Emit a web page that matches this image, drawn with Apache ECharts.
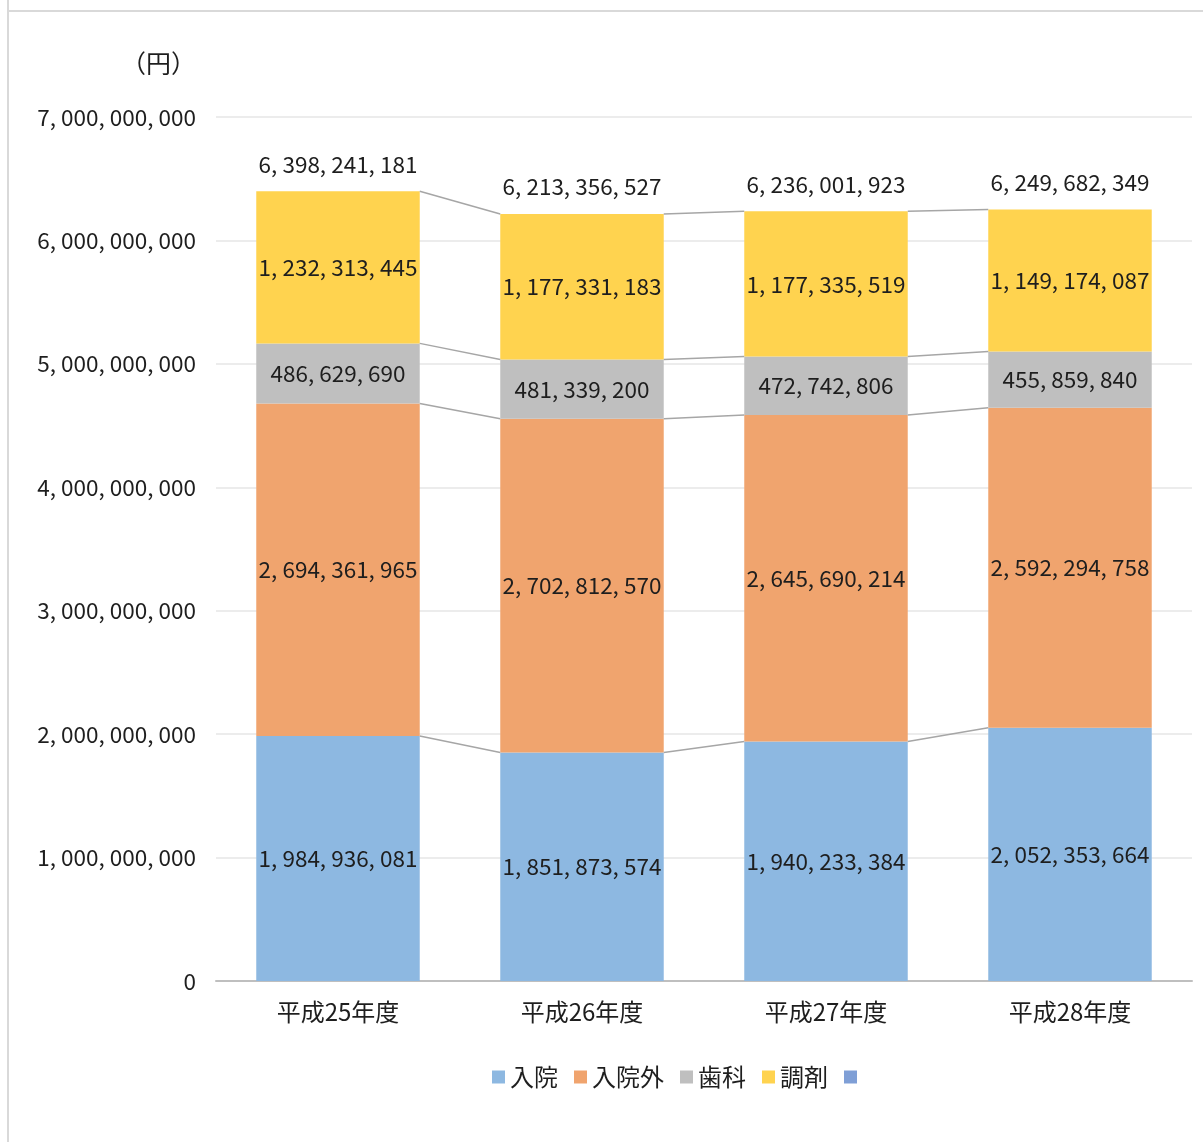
<!DOCTYPE html>
<html>
<head>
<meta charset="utf-8">
<script src="https://cdn.jsdelivr.net/npm/echarts@6/dist/echarts.min.js"></script>
<style>
  html, body { margin: 0; padding: 0; background: #fff; }
  #chart { width: 1203px; height: 1142px; }
</style>
</head>
<body>
<div id="chart"></div>
<script>
// 年度別 医療費（円）
const categories = ['平成25年度', '平成26年度', '平成27年度', '平成28年度'];
const nyuin    = [1984936081, 1851873574, 1940233384, 2052353664];
const nyuinGai = [2694361965, 2702812570, 2645690214, 2592294758];
const shika    = [486629690, 481339200, 472742806, 455859840];
const chozai   = [1232313445, 1177331183, 1177335519, 1149174087];
const totals   = [6398241181, 6213356527, 6236001923, 6249682349];
const yTicks   = { min: 0, max: 7000000000, interval: 1000000000 };

const seriesNames  = ['入院', '入院外', '歯科', '調剤'];
const seriesValues = [nyuin, nyuinGai, shika, chozai];
const seriesColors = ['#8DB8E1', '#F0A46E', '#BFBFBF', '#FFD34F'];
const totalName = '合計';
const totalColor = '#7F9FD6';

const FONT = '"Noto Sans CJK JP", "Noto Sans", sans-serif';
const NUM_SIZE = 22.5;
const TEXT = '#1e1e1e';
const BAR_RATIO = 0.67;

function fmt(v) {
  return String(v).replace(/\B(?=(\d{3})+(?!\d))/g, ', ');
}

// cumulative stack heights per category, used for the connector lines
const cum = seriesValues.map((_, k) =>
  categories.map((_, i) => seriesValues.slice(0, k + 1).reduce((s, arr) => s + arr[i], 0))
);
const connectorData = categories.map((_, i) => {
  const row = [i];
  cum.forEach(c => row.push(c[i]));
  cum.forEach(c => row.push(i + 1 < categories.length ? c[i + 1] : c[i]));
  return row;
});

const chart = echarts.init(document.getElementById('chart'));

const barSeries = seriesNames.map((name, k) => ({
  name: name,
  type: 'bar',
  stack: 'total',
  barWidth: (BAR_RATIO * 100) + '%',
  data: seriesValues[k],
  itemStyle: { color: seriesColors[k] },
  label: {
    show: true,
    position: 'inside',
    formatter: p => fmt(p.value),
    color: TEXT,
    fontFamily: FONT,
    fontSize: NUM_SIZE
  },
  z: 2
}));

chart.setOption({
  animation: false,
  textStyle: { fontFamily: FONT },
  title: {
    text: '（円）',
    left: 116,
    top: 46,
    textStyle: { fontFamily: FONT, fontSize: 25, fontWeight: 'normal', color: TEXT }
  },
  graphic: [
    { type: 'line', shape: { x1: 8, y1: 0, x2: 8, y2: 1142 }, style: { stroke: '#d9d9d9', lineWidth: 2 } },
    { type: 'line', shape: { x1: 7, y1: 11, x2: 1203, y2: 11 }, style: { stroke: '#d9d9d9', lineWidth: 2 } }
  ],
  legend: {
    data: seriesNames.concat([totalName]),
    left: 487,
    top: 1060,
    icon: 'rect',
    itemWidth: 13,
    itemHeight: 13,
    itemGap: 16,
    formatter: n => (n === totalName ? '' : n),
    textStyle: { fontFamily: FONT, fontSize: 24, color: TEXT }
  },
  grid: { left: 216, right: 11, top: 117, bottom: 161, containLabel: false },
  xAxis: {
    type: 'category',
    data: categories,
    axisLine: { lineStyle: { color: '#BFBFBF', width: 2 } },
    axisTick: { show: false },
    axisLabel: { color: TEXT, fontFamily: FONT, fontSize: 24, margin: 19 }
  },
  yAxis: {
    type: 'value',
    min: yTicks.min,
    max: yTicks.max,
    interval: yTicks.interval,
    axisLine: { show: false },
    axisTick: { show: false },
    splitLine: { lineStyle: { color: '#E6E6E6', width: 1.5 } },
    axisLabel: { color: TEXT, fontFamily: FONT, fontSize: NUM_SIZE, margin: 20, formatter: v => fmt(v) }
  },
  series: barSeries.concat([
    {
      name: totalName,
      type: 'line',
      data: totals,
      color: totalColor,
      symbol: 'circle',
      symbolSize: 0,
      showSymbol: true,
      lineStyle: { width: 0, opacity: 0 },
      label: {
        show: true,
        position: 'top',
        distance: 16,
        formatter: p => fmt(p.value),
        color: TEXT,
        fontFamily: FONT,
        fontSize: NUM_SIZE
      },
      z: 5
    },
    {
      // connector lines between the stacked segment boundaries of adjacent bars
      type: 'custom',
      data: connectorData,
      silent: true,
      z: 3,
      renderItem: function (params, api) {
        const i = api.value(0);
        if (i + 1 >= categories.length) return null;
        const bw = api.size([1, 0])[0] * BAR_RATIO;
        const n = seriesNames.length;
        const children = [];
        for (let k = 0; k < n; k++) {
          const a = api.coord([i, api.value(1 + k)]);
          const b = api.coord([i + 1, api.value(1 + n + k)]);
          children.push({
            type: 'line',
            shape: { x1: a[0] + bw / 2, y1: a[1], x2: b[0] - bw / 2, y2: b[1] },
            style: { stroke: '#A6A6A6', lineWidth: 1.5 }
          });
        }
        return { type: 'group', children: children };
      }
    }
  ])
});
</script>
</body>
</html>
